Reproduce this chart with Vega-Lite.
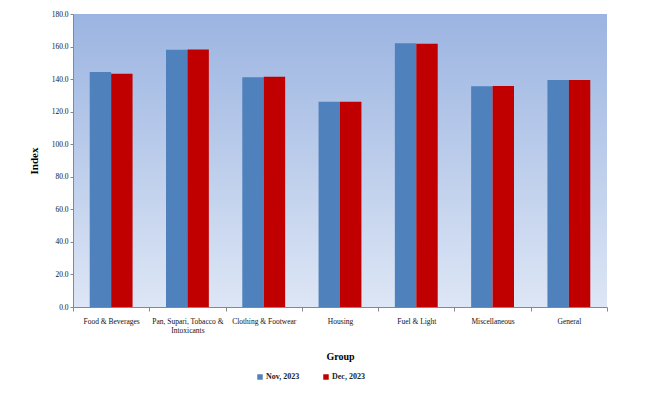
{
  "$schema": "https://vega.github.io/schema/vega-lite/v6.json",
  "width": 534,
  "height": 293,
  "autosize": {"type": "none"},
  "padding": {"left": 73, "top": 14, "right": 54, "bottom": 86},
  "background": "white",
  "config": {
    "view": {"stroke": null, "fill": {"gradient": "linear", "x1": 0, "y1": 0, "x2": 0, "y2": 1, "stops": [{"offset": 0, "color": "#9bb4e1"}, {"offset": 1, "color": "#dde6f5"}]}},
    "font": "Liberation Serif"
  },
  "data": {
    "values": [
      {"group": "Food & Beverages", "month": "Nov, 2023", "index": 144.3},
      {"group": "Food & Beverages", "month": "Dec, 2023", "index": 143.3},
      {"group": "Pan, Supari, Tobacco & Intoxicants", "month": "Nov, 2023", "index": 158.0},
      {"group": "Pan, Supari, Tobacco & Intoxicants", "month": "Dec, 2023", "index": 158.2},
      {"group": "Clothing & Footwear", "month": "Nov, 2023", "index": 141.1},
      {"group": "Clothing & Footwear", "month": "Dec, 2023", "index": 141.4},
      {"group": "Housing", "month": "Nov, 2023", "index": 126.1},
      {"group": "Housing", "month": "Dec, 2023", "index": 126.1},
      {"group": "Fuel & Light", "month": "Nov, 2023", "index": 162.0},
      {"group": "Fuel & Light", "month": "Dec, 2023", "index": 161.8},
      {"group": "Miscellaneous", "month": "Nov, 2023", "index": 135.6},
      {"group": "Miscellaneous", "month": "Dec, 2023", "index": 135.7},
      {"group": "General", "month": "Nov, 2023", "index": 139.4},
      {"group": "General", "month": "Dec, 2023", "index": 139.5}
    ]
  },
  "mark": {"type": "bar"},
  "encoding": {
    "x": {
      "field": "group",
      "type": "nominal",
      "sort": null,
      "scale": {"paddingInner": 0, "paddingOuter": 0},
      "axis": {
        "title": "Group",
        "titleFont": "Liberation Serif",
        "titleFontSize": 10,
        "titleFontWeight": "bold",
        "titleColor": "black",
        "titlePadding": 17,
        "labelAngle": 0,
        "labelFont": "Liberation Serif",
        "labelFontSize": 7.5,
        "labelFontWeight": "normal",
        "labelColor": "#111",
        "labelPadding": 6,
        "labelLimit": 200,
        "labelExpr": "datum.value == 'Pan, Supari, Tobacco & Intoxicants' ? ['Pan, Supari, Tobacco &', 'Intoxicants'] : datum.value",
        "tickBand": "extent",
        "tickSize": 4,
        "tickColor": "#888",
        "domainColor": "#888"
      }
    },
    "xOffset": {"field": "month", "type": "nominal", "sort": ["Nov, 2023", "Dec, 2023"], "scale": {"paddingInner": 0, "paddingOuter": 0.78}},
    "y": {
      "field": "index",
      "type": "quantitative",
      "scale": {"domain": [0, 180]},
      "axis": {
        "title": "Index",
        "titleFont": "Liberation Serif",
        "titleFontSize": 11,
        "titleFontWeight": "bold",
        "titleColor": "black",
        "titlePadding": 12,
        "values": [0, 20, 40, 60, 80, 100, 120, 140, 160, 180],
        "format": ".1f",
        "grid": false,
        "labelFont": "Liberation Serif",
        "labelFontSize": 7.5,
        "labelColor": "#111",
        "tickSize": 3,
        "tickColor": "#888",
        "domainColor": "#888"
      }
    },
    "color": {
      "field": "month",
      "type": "nominal",
      "sort": ["Nov, 2023", "Dec, 2023"],
      "scale": {"domain": ["Nov, 2023", "Dec, 2023"], "range": ["#4f81bd", "#c00000"]},
      "legend": {
        "title": null,
        "orient": "none",
        "direction": "horizontal",
        "legendX": 183,
        "legendY": 359,
        "symbolType": "square",
        "symbolSize": 30,
        "symbolStrokeWidth": 0,
        "labelFont": "Liberation Serif",
        "labelFontSize": 8,
        "labelFontWeight": "bold",
        "labelColor": "#222",
        "columnPadding": 22,
        "labelOffset": 2
      }
    }
  }
}
